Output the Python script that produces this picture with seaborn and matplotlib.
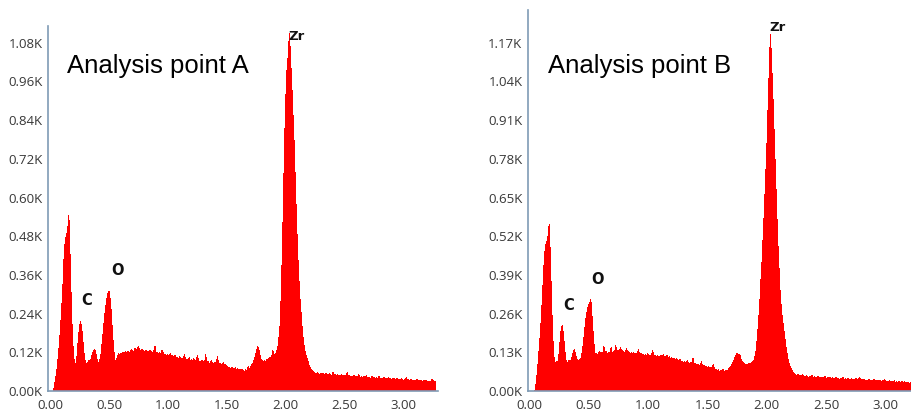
import numpy as np
import pandas as pd
import matplotlib
matplotlib.use("Agg")
import matplotlib.pyplot as plt
from matplotlib.ticker import FuncFormatter, FixedLocator
import seaborn as sns

# Energy axis (keV), 0.01 keV channels
energy_kev = [round(i * 0.01, 2) for i in range(328)]

# Point A counts per channel
counts_a = [
    0, 0, 0, 0, 20, 45, 70, 105, 150, 200,
    260, 330, 420, 470, 480, 500, 545, 420, 280, 170,
    110, 80, 85, 110, 160, 200, 215, 190, 150, 110,
    90, 84, 88, 95, 90, 100, 115, 125, 128, 115,
    95, 88, 92, 105, 140, 180, 220, 255, 280, 300,
    310, 285, 240, 180, 130, 95, 88, 105, 115, 112,
    118, 114, 120, 117, 122, 115, 124, 120, 118, 128,
    122, 119, 132, 124, 129, 138, 126, 122, 130, 125,
    118, 127, 121, 124, 119, 126, 120, 116, 123, 140,
    118, 121, 115, 119, 112, 125, 117, 110, 114, 108,
    112, 106, 118, 104, 109, 102, 111, 100, 104, 99,
    107, 96, 101, 98, 115, 95, 99, 94, 104, 92,
    97, 93, 100, 90, 95, 112, 88, 93, 87, 96,
    90, 84, 113, 86, 91, 83, 88, 95, 82, 86,
    90, 84, 109, 80, 85, 79, 83, 88, 78, 82,
    76, 71, 74, 69, 73, 70, 68, 72, 66, 70,
    64, 68, 63, 67, 62, 60, 66, 61, 75, 64,
    72, 80, 86, 95, 108, 120, 138, 130, 112, 98,
    92, 88, 94, 90, 98, 95, 104, 100, 108, 125,
    110, 114, 120, 130, 160, 200, 290, 428, 600, 780,
    910, 1000, 1040, 1110, 1030, 950, 860, 770, 650, 530,
    430, 350, 285, 235, 185, 150, 128, 112, 100, 88,
    76, 70, 64, 60, 56,
    55, 52, 58, 50, 53, 49, 56, 51, 48, 54,
    50, 47, 53, 49, 46, 58, 48, 51, 45, 50,
    47, 44, 52, 46, 49, 43, 48, 57, 45, 47,
    42, 46, 44, 49, 41, 45, 43, 50, 42, 44,
    40, 45, 41, 47, 39, 43, 41, 38, 44, 40,
    42, 37, 41, 39, 45, 36, 40, 38, 42, 37,
    39, 35, 41, 36, 38, 34, 40, 37, 35, 39,
    34, 37, 33, 38, 35, 32, 36, 41, 33, 35,
    32, 36, 31, 34, 33, 30, 35, 32, 29, 34,
    31, 28, 33, 30, 32, 29, 31, 28, 30, 36,
    30, 27, 29,
]

# Point B counts per channel
counts_b = [
    0, 0, 0, 0, 0, 0, 25, 60, 110, 160,
    220, 290, 370, 450, 490, 500, 520, 560, 450, 300,
    180, 115, 95, 98, 92, 110, 160, 205, 222, 190,
    140, 105, 92, 98, 104, 100, 112, 125, 140, 128,
    110, 104, 100, 106, 112, 135, 170, 210, 245, 270,
    290, 295, 308, 250, 190, 140, 115, 125, 120, 132,
    126, 130, 124, 150, 128, 134, 122, 131, 127, 145,
    125, 133, 129, 152, 126, 138, 131, 148, 127, 135,
    123, 130, 144, 126, 132, 121, 128, 124, 131, 119,
    125, 122, 140, 118, 126, 120, 124, 117, 122, 119,
    125, 116, 120, 118, 138, 115, 121, 113, 119, 116,
    112, 118, 114, 122, 111, 116, 120, 110, 115, 108,
    113, 106, 110, 104, 109, 102, 100, 106, 97, 101,
    94, 98, 92, 102, 95, 90, 96, 92, 110, 88,
    92, 86, 90, 84, 88, 98, 82, 86, 80, 84,
    78, 82, 75, 79, 73, 90, 70, 74, 67, 71,
    65, 69, 66, 72, 64, 68, 70, 66, 74, 78,
    84, 92, 100, 112, 120, 127, 118, 124, 110, 100,
    96, 92, 88, 90, 86, 92, 88, 94, 98, 102,
    115, 138, 180, 230, 290, 370, 440, 530, 619, 720,
    820, 950, 1080, 1200, 1100, 1000, 880, 760, 640, 520,
    430, 340, 285, 245, 212, 180, 150, 125, 102, 88,
    78, 70, 63, 58, 55,
    52, 56, 49, 53, 47, 55, 50, 46, 51, 48,
    45, 50, 47, 52, 44, 48, 46, 43, 49, 45,
    47, 42, 46, 44, 50, 41, 45, 43, 47, 40,
    44, 42, 39, 45, 41, 43, 38, 42, 40, 46,
    39, 41, 37, 43, 40, 36, 42, 38, 40, 37,
    41, 36, 39, 44, 35, 38, 36, 40, 34, 37,
    35, 39, 33, 36, 34, 38, 32, 35, 37, 33,
    36, 31, 34, 32, 38, 30, 33, 31, 35, 29,
    32, 30, 34, 28, 31, 29, 33, 27, 30, 32,
    28, 31, 26, 30, 28, 25, 29, 27, 30, 26,
    28, 25, 27,
]

x_ticks = [0.0, 0.5, 1.0, 1.5, 2.0, 2.5, 3.0]
y_ticks_a = [0, 120, 240, 360, 480, 600, 720, 840, 960, 1080]
y_ticks_b = [0, 130, 260, 390, 520, 650, 780, 910, 1040, 1170]

titles = ["Analysis point A", "Analysis point B"]
peak_labels_a = [("C", 0.31, 282), ("O", 0.57, 375), ("Zr", 2.02, 1100)]
peak_labels_b = [("C", 0.33, 286), ("O", 0.58, 376), ("Zr", 2.025, 1220)]

sns.set_style("white")
plt.rcParams["font.family"] = ["Open Sans", "DejaVu Sans"]

W, H = 911, 417
fig = plt.figure(figsize=(W / 100, H / 100), dpi=100)
fig.patch.set_facecolor("white")

spine_col = "#7f9bb5"
tick_text_col = "#383838"
fill_col = "#ff0000"

# channel edges, integer-based so every channel centre falls inside its own bin
edges = [round((i - 0.5) * 0.01, 4) for i in range(len(energy_kev) + 1)]


def panel(rect, counts, yticks, ylim, xlim, title, title_xy, labels):
    ax = fig.add_axes(rect)
    df = pd.DataFrame({"energy": energy_kev, "counts": counts})
    sns.histplot(data=df, x="energy", weights="counts", bins=edges,
                 element="poly", fill=True, color=fill_col, alpha=1.0,
                 linewidth=0, edgecolor="none", antialiased=False, ax=ax)
    ax.set_xlim(*xlim)
    ax.set_ylim(*ylim)
    ax.set_xlabel("")
    ax.set_ylabel("")
    ax.xaxis.set_major_locator(FixedLocator(x_ticks))
    ax.yaxis.set_major_locator(FixedLocator(yticks))
    ax.xaxis.set_major_formatter(FuncFormatter(lambda v, p: f"{v:.2f}"))
    ax.yaxis.set_major_formatter(FuncFormatter(lambda v, p: f"{v / 1000:.2f}K"))
    for s in ("top", "right"):
        ax.spines[s].set_visible(False)
    for s in ("left", "bottom"):
        ax.spines[s].set_color(spine_col)
        ax.spines[s].set_linewidth(1.2)
    ax.tick_params(axis="both", direction="out", length=3, width=0.8,
                   color=spine_col, labelcolor=tick_text_col, labelsize=9.5, pad=1)
    ax.tick_params(axis="x", pad=3)
    ax.text(title_xy[0], title_xy[1], title, transform=fig.transFigure,
            fontsize=18.5, family=["Liberation Sans", "DejaVu Sans"],
            ha="left", va="center", color="black")
    for txt, x, y in labels:
        ax.text(x, y, txt, fontsize=10.5 if txt != "Zr" else 9.5, fontweight="bold",
                ha="left" if txt == "Zr" else "center", va="center",
                color="#111111", family=["DejaVu Sans"])
    return ax


# panel A
panel([48 / W, (H - 391) / H, (438 - 48) / W, (391 - 26) / H],
      counts_a, y_ticks_a, (0, 1132), (-0.017, 3.29),
      titles[0], (67 / W, 1 - 66 / H), peak_labels_a)

# panel B
panel([528 / W, (H - 391) / H, (912 - 528) / W, (391 - 10) / H],
      counts_b, y_ticks_b, (0, 1280), (-0.008, 3.22),
      titles[1], (548 / W, 1 - 66 / H), peak_labels_b)

fig.savefig("out.png", dpi=100, facecolor="white")
